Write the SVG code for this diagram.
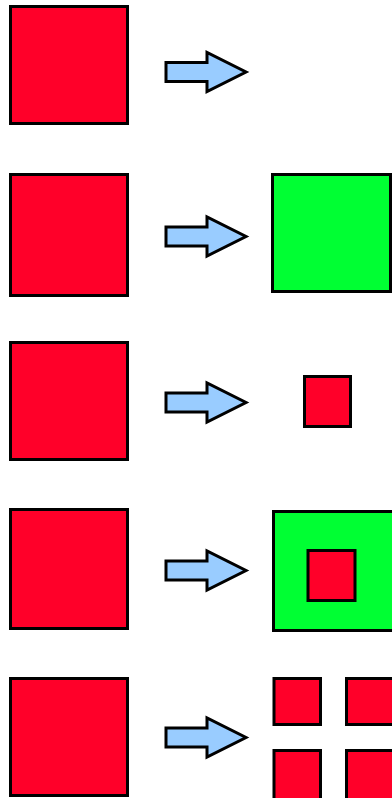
<svg xmlns="http://www.w3.org/2000/svg" width="392" height="798" viewBox="0 0 392 798">
<style>
.r{fill:#ff0029;stroke:#000;stroke-width:3}
.g{fill:#00ff33;stroke:#000;stroke-width:3}
.a{fill:#99ccff;stroke:#000;stroke-width:3;stroke-linejoin:miter}
</style>
<defs>
<path id="arrow" class="a" d="M0,-9.5 H41 V-19.5 L80,0 L41,19.5 V9.5 H0 Z"/>
</defs>
<rect width="392" height="798" fill="#fff"/>
<g id="row1">
<rect id="n1a" class="r" x="10.5" y="6.5" width="117" height="117"/>
</g>
<g id="row2">
<rect id="n2a" class="r" x="10.5" y="174.5" width="117" height="121"/>
<rect id="n2b" class="g" x="272.5" y="174.5" width="118" height="117"/>
</g>
<g id="row3">
<rect id="n3a" class="r" x="10.5" y="342.5" width="117" height="117"/>
<rect id="n3b" class="r" x="304.5" y="376.5" width="46" height="50"/>
</g>
<g id="row4">
<rect id="n4a" class="r" x="10.5" y="509.5" width="117" height="119"/>
<rect id="n4b" class="g" x="273.5" y="511.5" width="120" height="119"/>
<rect id="n4c" class="r" x="308" y="550.5" width="47" height="50"/>
</g>
<g id="row5">
<rect id="n5a" class="r" x="10.5" y="678.5" width="117" height="117"/>
<rect id="n5b" class="r" x="274" y="678.5" width="46.5" height="46"/>
<rect id="n5c" class="r" x="346.5" y="678.5" width="48" height="46"/>
<rect id="n5d" class="r" x="274" y="750.5" width="46.5" height="50"/>
<rect id="n5e" class="r" x="346.5" y="750.5" width="48" height="50"/>
</g>
<g id="connectors">
<use href="#arrow" x="166" y="72"/>
<use href="#arrow" x="166" y="236.5"/>
<use href="#arrow" x="166" y="402.5"/>
<use href="#arrow" x="166" y="570.5"/>
<use href="#arrow" x="166" y="737.5"/>
</g>
</svg>
